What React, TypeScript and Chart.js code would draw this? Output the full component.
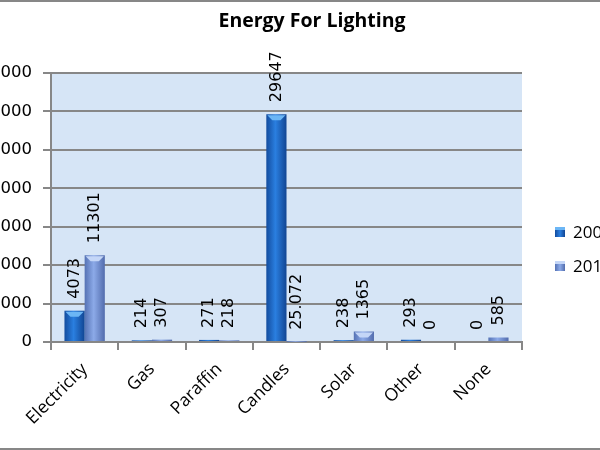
import { useEffect, useRef } from 'react';
import { Chart, registerables, type Plugin } from 'chart.js';

Chart.register(...registerables);

const categories = ['Electricity', 'Gas', 'Paraffin', 'Candles', 'Solar', 'Other', 'None'];
const values2001 = [4073, 214, 271, 29647, 238, 293, 0];
const values2011 = [11301, 307, 218, 25.072, 1365, 0, 585];
const seriesNames = ['2001', '2011'];
const chartTitle = 'Energy For Lighting';

const CANVAS_LEFT = -40;
const CANVAS_W = 704;
const CANVAS_H = 450;

// colour stops for each series: edge, centre, edge
const barStops = [
  ['#134c9e', '#2a7fe0', '#114593'],
  ['#5572b4', '#8caae8', '#526cad'],
];
const capColors = ['#6cb6f5', '#c4d6f7'];

function barGradient(c: any) {
  const ds = c.datasetIndex ?? 0;
  const chart = c.chart;
  const xs = chart.scales?.x;
  if (c.dataIndex == null || !xs) return barStops[ds][1];
  const cw = (xs.right - xs.left) / categories.length;
  const bw = cw * 0.3;
  const cx = xs.getPixelForValue(c.dataIndex) + (ds === 0 ? -bw / 2 : bw / 2);
  if (!Number.isFinite(cx) || !Number.isFinite(bw) || bw <= 0) return barStops[ds][1];
  const g = chart.ctx.createLinearGradient(cx - bw / 2, 0, cx + bw / 2, 0);
  g.addColorStop(0, barStops[ds][0]);
  g.addColorStop(0.45, barStops[ds][1]);
  g.addColorStop(1, barStops[ds][2]);
  return g;
}

const plotBackground: Plugin = {
  id: 'plotBackground',
  beforeDraw(chart) {
    const { ctx, chartArea } = chart;
    ctx.save();
    ctx.fillStyle = '#d6e5f6';
    ctx.fillRect(chartArea.left, chartArea.top, chartArea.right - chartArea.left, chartArea.bottom - chartArea.top);
    ctx.restore();
  },
};

const barDecor: Plugin = {
  id: 'barDecor',
  afterDatasetsDraw(chart) {
    const { ctx } = chart;
    chart.data.datasets.forEach((ds, di) => {
      const meta = chart.getDatasetMeta(di);
      meta.data.forEach((el: any, i) => {
        const h = el.base - el.y;
        // bevel cap on top of the bar
        if (h > 6) {
          const half = el.width / 2;
          ctx.save();
          ctx.fillStyle = capColors[di];
          ctx.beginPath();
          ctx.moveTo(el.x - half + 1, el.y + 1);
          ctx.lineTo(el.x + half - 1, el.y + 1);
          ctx.lineTo(el.x + half - 6, el.y + 6);
          ctx.lineTo(el.x - half + 6, el.y + 6);
          ctx.closePath();
          ctx.fill();
          ctx.restore();
        }
        // vertical value label
        const v = (ds.data as number[])[i];
        ctx.save();
        ctx.translate(el.x, el.y - 12);
        ctx.rotate(-Math.PI / 2);
        ctx.font = '16px "DejaVu Sans"';
        ctx.fillStyle = '#000';
        ctx.textAlign = 'left';
        ctx.textBaseline = 'middle';
        ctx.fillText(String(v), 0, 0);
        ctx.restore();
      });
    });
  },
};

function LegendItem({ top, label, idx }: { top: number; label: string; idx: number }) {
  return (
    <>
      <div
        style={{
          position: 'absolute',
          left: 555,
          top: top - 5,
          width: 10,
          height: 10,
          background: `linear-gradient(to right, ${barStops[idx][0]}, ${barStops[idx][1]}, ${barStops[idx][2]})`,
          boxShadow: `inset 0 3px 0 ${capColors[idx]}`,
        }}
      />
      <div
        style={{
          position: 'absolute',
          left: 573,
          top: top - 11,
          lineHeight: '22px',
          fontFamily: '"Open Sans", sans-serif',
          fontSize: 17,
          color: '#000',
          whiteSpace: 'nowrap',
        }}
      >
        {label}
      </div>
    </>
  );
}

export default function App() {
  const canvasRef = useRef<HTMLCanvasElement | null>(null);

  useEffect(() => {
    document.body.style.margin = '0';
    const canvas = canvasRef.current;
    if (!canvas) return;
    const chart = new Chart(canvas, {
      type: 'bar',
      data: {
        labels: categories,
        datasets: [
          { label: seriesNames[0], data: values2001, backgroundColor: barGradient as any },
          { label: seriesNames[1], data: values2011, backgroundColor: barGradient as any },
        ],
      },
      options: {
        responsive: false,
        animation: false,
        devicePixelRatio: 1,
        layout: { padding: { left: 0, right: 142, top: 73, bottom: 0 } },
        datasets: { bar: { categoryPercentage: 0.6, barPercentage: 1 } },
        plugins: {
          legend: { display: false },
          tooltip: { enabled: false },
        },
        scales: {
          x: {
            grid: { offset: true, drawOnChartArea: false, color: '#878787', lineWidth: 2, tickLength: 8 },
            border: { color: '#878787', width: 2 },
            ticks: {
              color: '#000',
              font: { family: '"Open Sans"', size: 17.5 },
              minRotation: 45,
              maxRotation: 45,
              padding: 9,
            },
            afterFit(scale) {
              scale.height = 108;
            },
          },
          y: {
            min: 0,
            max: 35000,
            grid: { color: '#878787', lineWidth: 2, tickLength: 8 },
            border: { color: '#878787', width: 2 },
            ticks: {
              stepSize: 5000,
              color: '#000',
              font: { family: '"DejaVu Sans"', size: 16.5 },
              padding: 11,
              callback: (v) => String(v),
            },
            afterFit(scale) {
              scale.width = 91;
            },
          },
        },
      },
      plugins: [plotBackground, barDecor],
    });
    return () => chart.destroy();
  }, []);

  return (
    <div style={{ position: 'relative', width: 600, height: 450, overflow: 'hidden', background: '#fff' }}>
      <canvas
        ref={canvasRef}
        width={CANVAS_W}
        height={CANVAS_H}
        style={{ position: 'absolute', left: CANVAS_LEFT, top: 0, width: CANVAS_W, height: CANVAS_H }}
      />
      <div style={{ position: 'absolute', left: 0, top: 0, width: 600, height: 2, background: '#878787' }} />
      <div style={{ position: 'absolute', left: 0, top: 448, width: 600, height: 2, background: '#878787' }} />
      <div
        style={{
          position: 'absolute',
          left: 112,
          width: 400,
          top: 7,
          lineHeight: '26px',
          textAlign: 'center',
          fontFamily: '"Open Sans", sans-serif',
          fontWeight: 700,
          fontSize: 19.5,
          color: '#000',
        }}
      >
        {chartTitle}
      </div>
      <LegendItem top={232} label={seriesNames[0]} idx={0} />
      <LegendItem top={266} label={seriesNames[1]} idx={1} />
    </div>
  );
}
